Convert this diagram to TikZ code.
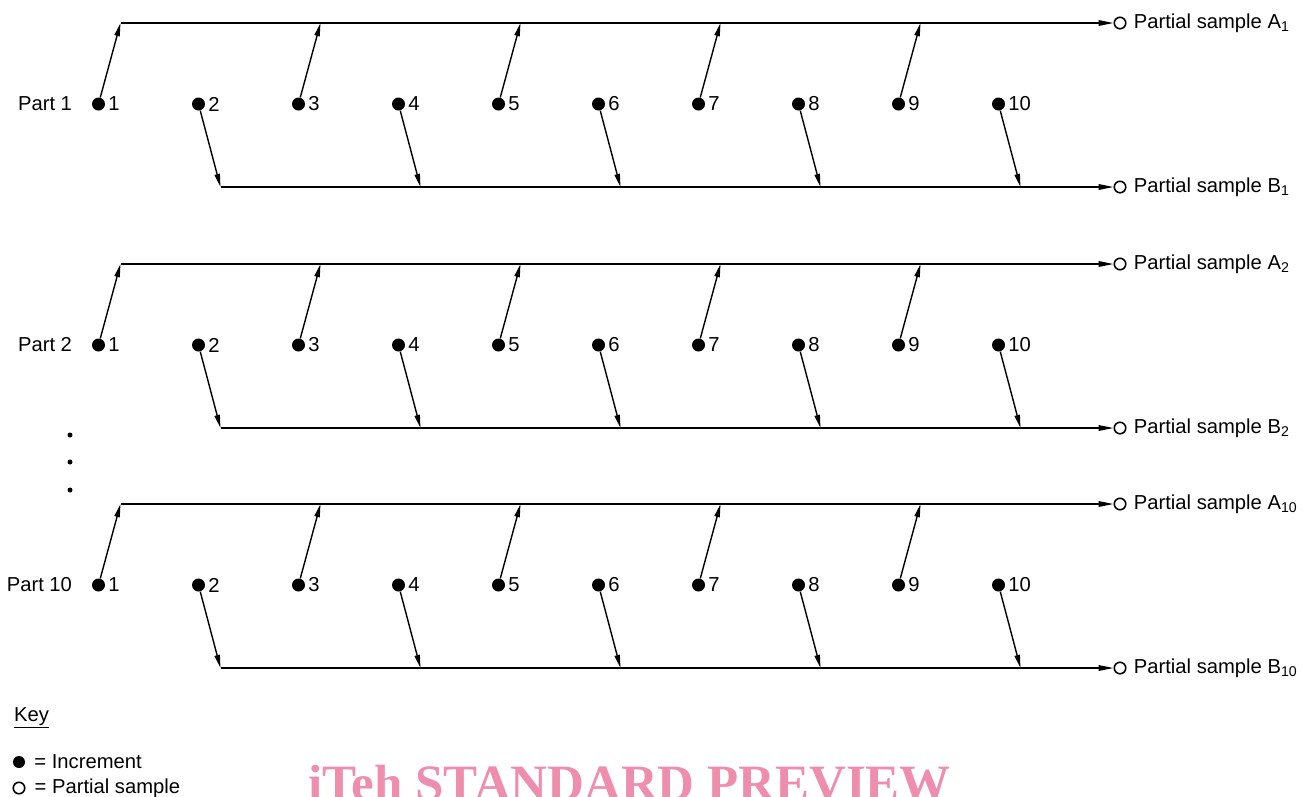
\documentclass[tikz,border=0pt]{standalone}
\usepackage{fontspec}
\setmainfont{Liberation Sans}
\newfontfamily\wmfont{Liberation Serif}
\usetikzlibrary{arrows.meta, positioning}
\definecolor{wmpink}{RGB}{238,142,172}

\begin{document}
\begin{tikzpicture}[
        x=0.02cm, y=-0.02cm,
        incr/.style={circle, fill, inner sep=0pt, minimum size=0.26cm},
        psample/.style={circle, draw, line width=0.9pt, inner sep=0pt, minimum size=0.23cm},
        flow/.style={-{Triangle[length=7.5pt, width=3pt]}, line width=0.8pt},
        lbl/.style={font=\fontsize{11.5}{13}\selectfont, inner sep=1pt}
    ]
    \useasboundingbox (0,0) rectangle (1314,796);

    \foreach \k/\yd in {1/104, 2/345, 10/585} {
        % increments of one part
        \foreach \i in {1,...,10} {
            \node[incr, label={[lbl, inner sep=1.5pt]right:\i}] (d\k-\i) at ({98.5+100*(\i-1)},\yd) {};
        }
        \node[lbl, left=10pt of d\k-1] (part\k) {Part \k};

        \node[psample] (sa\k) at (1120,\yd-81) {};
        \node[psample] (sb\k) at (1120,\yd+83) {};
        \node[lbl, right=3pt of sa\k] (la\k) {Partial sample A\textsubscript{\k}};
        \node[lbl, right=3pt of sb\k] (lb\k) {Partial sample B\textsubscript{\k}};

        \foreach \i in {1,3,...,9} {
            \coordinate (ta\k-\i) at ({120.5+100*(\i-1)},\yd-81);
            \draw[flow] (d\k-\i) -- (ta\k-\i);
        }
        \foreach \i in {2,4,...,10} {
            \coordinate (tb\k-\i) at ({120.5+100*(\i-1)},\yd+83);
            \draw[flow] (d\k-\i) -- (tb\k-\i);
        }
        \draw[flow, -{Triangle[length=8.5pt, width=3.2pt]}] (ta\k-1) -- (sa\k);
        \draw[flow, -{Triangle[length=8.5pt, width=3.2pt]}] (tb\k-2) -- (sb\k);
    }

    % parts 3 to 9 left out
    \foreach \j/\yy in {1/435, 2/462, 3/490}
        \node[circle, fill, inner sep=0pt, minimum size=0.1cm] (vd\j) at (70,\yy) {};

    % key
    \node[lbl, anchor=west] (key) at (12,718) {\underline{Key}};
    \node[incr, minimum size=0.24cm] (kinc) at (19,762) {};
    \node[lbl, right=4pt of kinc] (kincl) {= Increment};
    \node[psample] (kps) at (19,788) {};
    \node[lbl, right=4pt of kps] (kpsl) {= Partial sample};

    \node[font=\wmfont\bfseries\fontsize{29}{30}\selectfont, text=wmpink, anchor=base west, inner sep=0pt] (wm) at (308,800) {iTeh STANDARD PREVIEW};
\end{tikzpicture}
\end{document}
